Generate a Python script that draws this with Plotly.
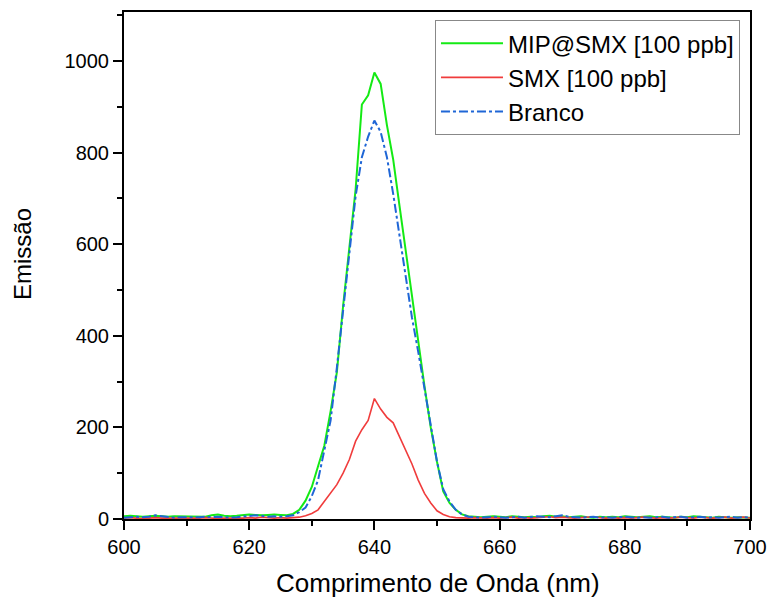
import plotly.graph_objects as go

wavelength = list(range(600, 701))

mip_smx = [6, 7, 6, 5, 6, 7, 6, 5, 6, 6,
           5, 6, 6, 5, 8, 10, 7, 6, 7, 8,
           10, 9, 8, 9, 10, 9, 8, 11,
           20, 40, 70, 115, 160, 235, 320, 465, 590, 720, 905, 925,
           975, 950, 860, 785, 685, 585, 485, 385, 290, 200,
           125, 60, 35, 20, 10, 6, 5, 4, 5, 6,
           5, 4, 6, 5, 4, 5, 4, 6, 7, 5,
           6, 4, 5, 6, 4, 3, 5, 4, 5, 4,
           6, 5, 4, 5, 6, 4, 5, 4, 3, 5,
           4, 6, 5, 4, 3, 5, 4, 3, 4, 3,
           3]

smx = [2, 3, 2, 1, 2, 3, 2, 2, 1, 2,
       2, 1, 2, 3, 2, 1, 2, 2, 1, 2,
       3, 2, 4, 3, 2, 3, 2, 3,
       4, 7, 12, 20, 38, 58, 75, 100, 130, 170, 195, 215,
       263, 240, 222, 210, 180, 152, 120, 85, 56, 35,
       18, 10, 5, 3, 2, 2, 3, 2, 2, 3,
       2, 3, 4, 2, 3, 2, 3, 4, 5, 3,
       4, 3, 2, 3, 4, 5, 3, 2, 3, 2,
       3, 2, 3, 4, 3, 2, 3, 2, 3, 4,
       3, 2, 4, 3, 2, 3, 4, 2, 3, 4,
       2]

branco = [3, 4, 5, 4, 5, 8, 6, 4, 3, 4,
          4, 3, 4, 5, 4, 5, 4, 3, 4, 5,
          6, 8, 7, 5, 6, 5, 6, 8,
          15, 25, 50, 85, 150, 215, 330, 455, 570, 705, 790, 835,
          870, 845, 790, 710, 620, 530, 440, 365, 285, 200,
          125, 65, 38, 20, 10, 5, 4, 3, 4, 5,
          4, 3, 4, 5, 3, 4, 6, 5, 4, 6,
          8, 5, 4, 3, 4, 5, 3, 4, 3, 4,
          5, 4, 3, 4, 3, 4, 5, 3, 4, 5,
          3, 4, 5, 3, 4, 3, 4, 5, 3, 4,
          3]

names = ["MIP@SMX [100 ppb]", "SMX [100 ppb]", "Branco"]
x_title = "Comprimento de Onda (nm)"
y_title = "Emissão"

FONT = "Liberation Sans, Arial, sans-serif"

fig = go.Figure()
fig.add_trace(go.Scatter(x=wavelength, y=mip_smx, mode="lines", name=names[0],
                         line=dict(color="#14EA14", width=2)))
fig.add_trace(go.Scatter(x=wavelength, y=smx, mode="lines", name=names[1],
                         line=dict(color="#F03C3C", width=1.6)))
fig.add_trace(go.Scatter(x=wavelength, y=branco, mode="lines", name=names[2],
                         line=dict(color="#1F66D6", width=2, dash="dashdot")))

axis_common = dict(
    showline=True, linecolor="black", linewidth=2, mirror=True,
    ticks="outside", ticklen=9, tickwidth=1.5, tickcolor="black",
    showgrid=False, zeroline=False, automargin=False,
    tickfont=dict(family=FONT, size=20, color="black"),
)

fig.update_xaxes(range=[600, 700], tick0=600, dtick=20,
                 minor=dict(ticks="outside", ticklen=5, tickwidth=1.5, tickcolor="black", dtick=10),
                 **axis_common)
fig.update_yaxes(range=[0, 1107], tick0=0, dtick=200,
                 minor=dict(ticks="outside", ticklen=5, tickwidth=1.5, tickcolor="black", dtick=100),
                 **axis_common)

fig.add_annotation(text=x_title, xref="paper", yref="paper", x=0.502, y=-0.126,
                   xanchor="center", yanchor="middle", showarrow=False,
                   font=dict(family=FONT, size=26, color="black"))
fig.add_annotation(text=y_title, xref="paper", yref="paper", x=-0.161, y=0.523,
                   xanchor="center", yanchor="middle", showarrow=False, textangle=-90,
                   font=dict(family=FONT, size=24, color="black"))

fig.update_layout(
    width=769, height=597,
    margin=dict(l=124, r=19, t=12, b=78),
    plot_bgcolor="white", paper_bgcolor="white",
    legend=dict(x=0.984, y=0.984, xanchor="right", yanchor="top",
                bgcolor="white", bordercolor="#888888", borderwidth=1,
                font=dict(family=FONT, size=24, color="black"),
                tracegroupgap=0, itemwidth=62),
)

fig.write_html("out.html")
